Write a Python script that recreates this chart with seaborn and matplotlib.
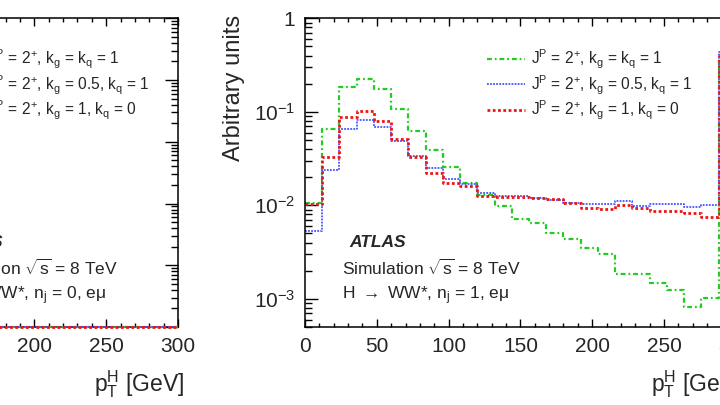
import matplotlib
matplotlib.use("Agg")
import matplotlib.pyplot as plt
import matplotlib.ticker as mticker
from matplotlib.lines import Line2D
import numpy as np
import pandas as pd
import seaborn as sns

# 12 GeV bins, 0-300 GeV (last bin holds the overflow)
bin_edges = list(range(0, 301, 12))
bin_centres = [e + 6 for e in bin_edges[:-1]]

# n_j = 1 panel (right)
green_nj1 = [0.0107, 0.0657, 0.184, 0.226, 0.177, 0.1077, 0.063, 0.039, 0.0258,
             0.0175, 0.013, 0.0098, 0.0071, 0.0064, 0.0051, 0.0044, 0.0035,
             0.0030, 0.00184, 0.00184, 0.00147, 0.00123, 0.00081, 0.00102, 0.38]
blue_nj1 = [0.0053, 0.0238, 0.0657, 0.082, 0.068, 0.049, 0.034, 0.025, 0.019,
            0.0168, 0.0134, 0.0126, 0.0126, 0.0121, 0.0113, 0.0107, 0.0103,
            0.0103, 0.0111, 0.0098, 0.0103, 0.0103, 0.0096, 0.0101, 0.44]
red_nj1 = [0.0103, 0.0325, 0.0875, 0.103, 0.0806, 0.051, 0.033, 0.0224, 0.0175,
           0.0161, 0.0126, 0.0123, 0.0123, 0.0121, 0.0116, 0.0107, 0.0094,
           0.0091, 0.0101, 0.0093, 0.0087, 0.0087, 0.0083, 0.0075, 0.40]

# n_j = 0 panel (left) - only the high-pT tail is visible, sitting on the floor
edges_nj0 = list(range(168, 301, 12))
centres_nj0 = [e + 6 for e in edges_nj0[:-1]]
green_nj0 = [1e-5] * 11
blue_nj0 = [1e-5] * 11
red_nj0 = [1e-5] * 11

labels = [r"J$^{P}$ = 2$^{+}$, k$_{g}$ = k$_{q}$ = 1",
          r"J$^{P}$ = 2$^{+}$, k$_{g}$ = 0.5, k$_{q}$ = 1",
          r"J$^{P}$ = 2$^{+}$, k$_{g}$ = 1, k$_{q}$ = 0"]

sns.set_theme(style="ticks")
plt.rcParams["font.family"] = ["Liberation Sans", "DejaVu Sans"]
plt.rcParams["mathtext.fontset"] = "custom"
plt.rcParams["mathtext.rm"] = "Liberation Sans"
plt.rcParams["mathtext.it"] = "Liberation Sans:italic"
plt.rcParams["mathtext.bf"] = "Liberation Sans:bold"
plt.rcParams["mathtext.default"] = "regular"

styles = [
    dict(color="#22cc22", linewidth=1.6, linestyle=(0, (2.2, 1.3, 0.8, 1.3))),
    dict(color="#4455ff", linewidth=1.3, linestyle=(0, (1, 0.7))),
    dict(color="#ee1515", linewidth=2.0, linestyle=(0, (1, 0.9))),
]


def log_label(v, pos):
    if abs(v - 1) < 1e-9:
        return "1"
    return r"10$^{%d}$" % int(round(np.log10(v)))


def style_axes(ax, ymin, ymax):
    ax.set_yscale("log")
    ax.set_xlim(0, 300)
    ax.set_ylim(ymin, ymax)
    ax.xaxis.set_major_locator(mticker.MultipleLocator(50))
    ax.xaxis.set_minor_locator(mticker.MultipleLocator(10))
    ax.yaxis.set_major_locator(mticker.LogLocator(base=10))
    ax.yaxis.set_minor_locator(mticker.LogLocator(base=10, subs=np.arange(2, 10)))
    ax.yaxis.set_major_formatter(mticker.FuncFormatter(log_label))
    ax.yaxis.set_minor_formatter(mticker.NullFormatter())
    ax.tick_params(which="both", direction="in", top=True, right=True,
                   color="black", width=1.0, labelsize=15)
    ax.tick_params(axis="x", which="major", length=5.8, pad=7)
    ax.tick_params(axis="x", which="minor", length=2.9)
    ax.tick_params(axis="y", which="major", length=9.4, pad=7)
    ax.tick_params(axis="y", which="minor", length=5)
    for sp in ax.spines.values():
        sp.set_visible(True)
        sp.set_color("black")
        sp.set_linewidth(1.1)
    ax.set_xlabel(r"p$_{T}^{H}$ [GeV]", fontsize=16.5, ha="right", va="center")
    ax.xaxis.set_label_coords(1.014, -0.186)


def draw_hists(ax, edges, centres, series, **extra):
    for vals, st in zip(series, styles):
        df = pd.DataFrame({"pt": centres, "w": vals})
        sns.histplot(data=df, x="pt", weights="w", bins=edges, element="step",
                     fill=False, ax=ax, **st, **extra)


fig = plt.figure(figsize=(7.2, 4.05), dpi=100)

# left panel (n_j = 0), mostly outside the crop
ax0 = fig.add_axes([-0.3511, 0.1926, 0.5983, 0.7622])
draw_hists(ax0, edges_nj0, centres_nj0, [green_nj0, blue_nj0, red_nj0],
           clip_on=False, zorder=3)
style_axes(ax0, 1e-5, 1)
ax0.set_ylabel("")

# right panel (n_j = 1)
ax1 = fig.add_axes([0.4236, 0.1926, 0.5983, 0.7622])
draw_hists(ax1, bin_edges, bin_centres, [green_nj1, blue_nj1, red_nj1])
style_axes(ax1, 5e-4, 1)
ax1.set_ylabel("Arbitrary units", fontsize=17, loc="top")
ax1.yaxis.set_label_coords(-0.139, 1.01)

handles = [Line2D([], [], **st) for st in styles]
for ax, xa in [(ax0, 0.457), (ax1, 0.423)]:
    ax.legend(handles, labels, loc="upper left", bbox_to_anchor=(xa, 0.905),
              frameon=False, fontsize=11.2, handlelength=2.4, handletextpad=0.4,
              labelspacing=0.15, borderpad=0, borderaxespad=0)

texts = [(ax0, 0.462, 0.446, "0"), (ax1, 0.102, 0.086, "1")]
for ax, xa, xs, nj in texts:
    ax.text(xa, 0.275, "ATLAS", transform=ax.transAxes, fontsize=12.5,
            fontweight="bold", fontstyle="italic", va="center")
    ax.text(xs, 0.191, r"Simulation $\sqrt{s}$ = 8 TeV", transform=ax.transAxes,
            fontsize=12.5, va="center")
    ax.text(xs, 0.10, r"H $\rightarrow$ WW*, n$_{j}$ = " + nj + ", eμ",
            transform=ax.transAxes, fontsize=12.5, va="center")

fig.savefig("out.png", dpi=100)
